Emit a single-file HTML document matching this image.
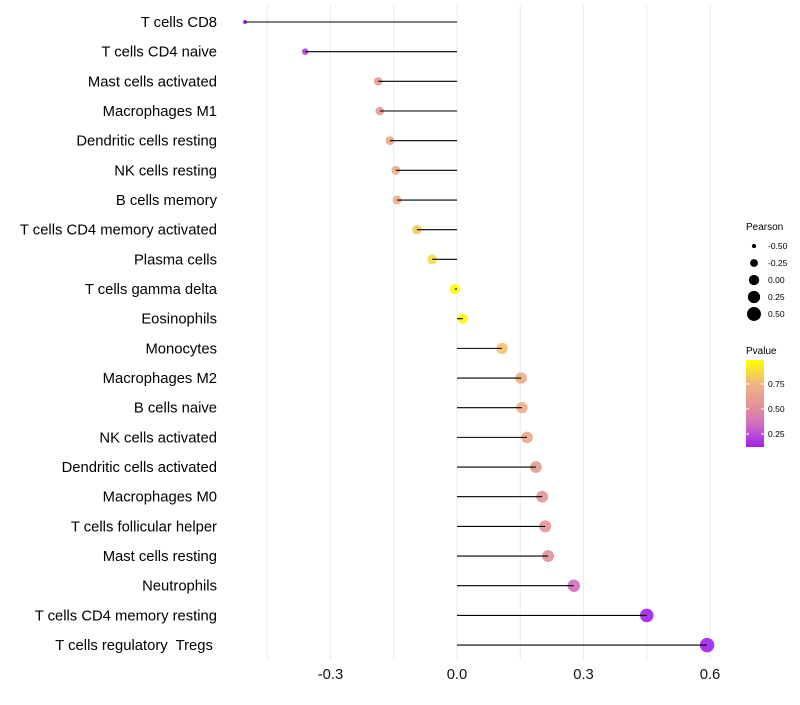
<!DOCTYPE html>
<html><head><meta charset="utf-8"><style>
body{margin:0;background:#fff;font-family:"Liberation Sans",sans-serif}
text{white-space:pre}
</style></head><body>
<svg id="c" width="800" height="700" xmlns="http://www.w3.org/2000/svg"></svg>
<script>
const categories=["T cells CD8","T cells CD4 naive","Mast cells activated","Macrophages M1","Dendritic cells resting","NK cells resting","B cells memory","T cells CD4 memory activated","Plasma cells","T cells gamma delta","Eosinophils","Monocytes","Macrophages M2","B cells naive","NK cells activated","Dendritic cells activated","Macrophages M0","T cells follicular helper","Mast cells resting","Neutrophils","T cells CD4 memory resting","T cells regulatory  Tregs "];
const pearson=[-0.503,-0.36,-0.187,-0.183,-0.159,-0.145,-0.142,-0.095,-0.059,-0.005,0.014,0.107,0.152,0.154,0.166,0.187,0.202,0.209,0.216,0.277,0.45,0.593];
const pvalue=[0.03,0.2,0.58,0.58,0.65,0.7,0.7,0.82,0.88,0.99,0.97,0.8,0.7,0.7,0.66,0.58,0.55,0.54,0.52,0.35,0.1,0.03];
const xTicks=[-0.3,0,0.3,0.6];
const xTickLabels=["-0.3","0.0","0.3","0.6"];
const sizeLegend=[-0.5,-0.25,0,0.25,0.5];
const colorLegend=[0.25,0.5,0.75];

const svg=document.getElementById('c');const NS="http://www.w3.org/2000/svg";
function mk(t,a,p){const e=document.createElementNS(NS,t);for(const k in a)e.setAttribute(k,a[k]);(p||svg).appendChild(e);return e;}
const x=v=>457+v*421.7;
const y=i=>22+i*29.67;
const r=v=>Math.sqrt(Math.max(2.5,4.5+(v+0.5)*44));
const stops=[[0.1,[160,32,240]],[0.35,[210,110,190]],[0.55,[228,150,150]],[0.75,[240,180,130]],[1,[255,255,0]]];
function col(p){if(p<=stops[0][0])return `rgb(${stops[0][1]})`;for(let i=1;i<stops.length;i++){if(p<=stops[i][0]){const a=stops[i-1],b=stops[i],t=(p-a[0])/(b[0]-a[0]);return `rgb(${a[1].map((c,j)=>Math.round(c+(b[1][j]-c)*t)).join(',')})`;}}return 'rgb(255,255,0)';}
for(let g=-0.45;g<=0.61;g+=0.15){const l=mk('line',{x1:x(g),x2:x(g),y1:5,y2:660,stroke:'#ebebeb','stroke-width':1});
}
xTicks.forEach((t,i)=>{const e=mk('text',{x:x(t),y:679,'text-anchor':'middle','font-size':14.8,fill:'#111'});e.textContent=xTickLabels[i];
});
categories.forEach((c,i)=>{
const t=mk('text',{x:217,y:y(i)+5,'text-anchor':'end','font-size':14.8,fill:'#000'});t.textContent=c;

const p=mk('circle',{cx:x(pearson[i]),cy:y(i),r:r(pearson[i]),fill:col(pvalue[i]),'fill-opacity':0.9});

const l=mk('line',{x1:x(0),x2:x(pearson[i]),y1:y(i),y2:y(i),stroke:'#000','stroke-width':1.1});

});
const lt=mk('text',{x:746,y:230,'font-size':10});lt.textContent='Pearson';

sizeLegend.forEach((v,i)=>{const cy=246+i*17;
const c=mk('circle',{cx:754,cy:cy,r:r(v),fill:'#000'});
const t=mk('text',{x:768,y:cy+3,'font-size':8.5});t.textContent=v.toFixed(2);});
const ct=mk('text',{x:746,y:354,'font-size':10});ct.textContent='Pvalue';

const defs=mk('defs',{});const lg=mk('linearGradient',{id:'g',x1:0,y1:1,x2:0,y2:0},defs);
const py=p=>447-(p-0.12)/0.87*87;
stops.forEach(s=>mk('stop',{offset:((s[0]-0.12)/0.87*100)+'%','stop-color':`rgb(${s[1]})`},lg));
const bar=mk('rect',{x:746,y:360,width:18,height:87,fill:'url(#g)'});
colorLegend.forEach(v=>{const yy=py(v);
mk('line',{x1:746,x2:749,y1:yy,y2:yy,stroke:'#fff'});mk('line',{x1:761,x2:764,y1:yy,y2:yy,stroke:'#fff'});
const t=mk('text',{x:768,y:yy+3,'font-size':8.5});t.textContent=v.toFixed(2);});
</script>
</body></html>
